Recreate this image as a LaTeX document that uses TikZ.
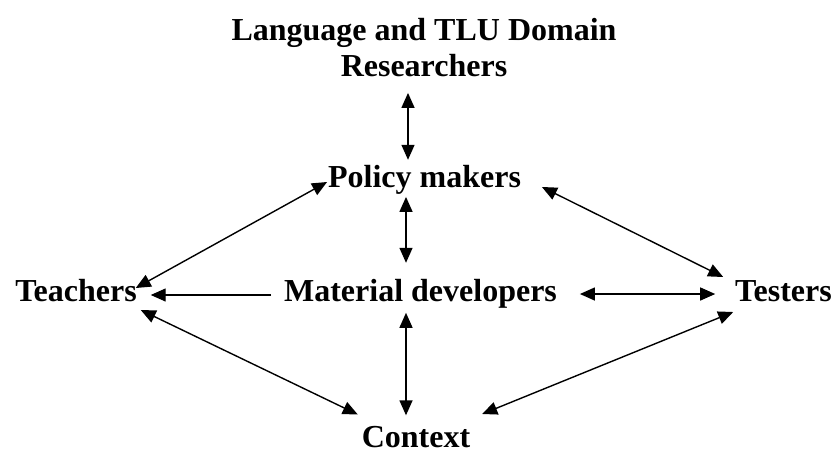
\documentclass[tikz,border=0pt]{standalone}
\usepackage{fontspec}
\setmainfont{Liberation Serif}
\usetikzlibrary{arrows.meta,calc}

\tikzset{
  label/.style={inner sep=0pt, outer sep=0pt,
    font=\fontsize{32}{36}\selectfont\bfseries},
  tip/.style={Triangle[length=15pt,width=13pt]},
  arr/.style={line width=1.4pt, -{Triangle[length=15pt,width=13pt]}},
  biarr/.style={line width=1.4pt, {Triangle[length=15pt,width=13pt]}-{Triangle[length=15pt,width=13pt]}}
}

\begin{document}
\begin{tikzpicture}[x=1pt,y=-1pt]
  \fill[white] (0,0) rectangle (837,453);
  \useasboundingbox (0,0) rectangle (837,453);

  % stakeholders
  \node[label, align=center, anchor=north] (lang) at (424,18.4)
    {Language and TLU Domain\\Researchers};
  \node[label, anchor=base] (policy)   at (424.5,187) {Policy makers};
  \node[label, anchor=base] (teachers) at (76,301)    {Teachers};
  \node[label, anchor=base] (material) at (420.5,301) {Material developers};
  \node[label, anchor=base] (testers)  at (783.5,301) {Testers};
  \node[label, anchor=base] (context)  at (416,447.5) {Context};

  % vertical links
  \draw[biarr] ($(lang.south)+(-16,16)$) -- ($(policy.north)+(-16.5,-5)$);
  \draw[biarr] ($(policy.south)+(-18.5,3)$) -- ($(material.north)+(-14.5,-16)$);
  \draw[biarr] ($(material.south)+(-14.5,5)$) -- ($(context.north)+(-10,-11)$);

  % links around the centre
  \draw[biarr] ($(teachers.base east)+(-1,-13)$) -- ($(policy.base west)+(-1,-5)$);
  \draw[arr]   ($(material.base west)+(-13,-6)$) -- ($(teachers.base east)+(14,-6)$);
  \draw[biarr] ($(teachers.base east)+(4,9)$) -- ($(context.base west)+(-4,-33)$);
  \draw[biarr] ($(material.base east)+(23,-7)$) -- ($(testers.base west)+(-20,-7)$);
  \draw[biarr] ($(policy.base east)+(21,0)$) -- ($(testers.base west)+(-12,-24)$);
  \draw[biarr] ($(testers.base west)+(-2,11)$) -- ($(context.base east)+(12,-33.5)$);
\end{tikzpicture}
\end{document}
